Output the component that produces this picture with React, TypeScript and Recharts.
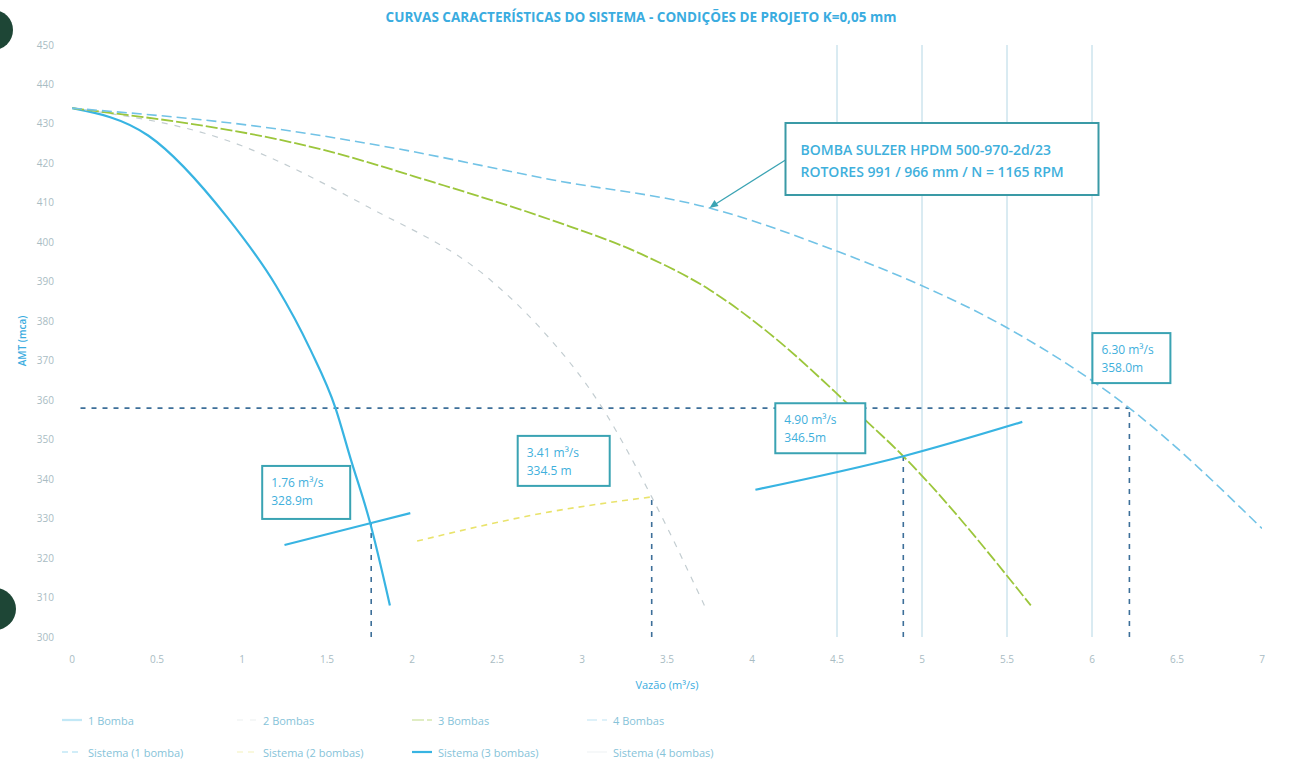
import { LineChart, Line, XAxis, YAxis, ReferenceLine, ReferenceDot } from "recharts";

// eixos
const Q_TICKS = [0, 0.5, 1, 1.5, 2, 2.5, 3, 3.5, 4, 4.5, 5, 5.5, 6, 6.5, 7];
const H_TICKS = [300, 310, 320, 330, 340, 350, 360, 370, 380, 390, 400, 410, 420, 430, 440, 450];
const GRID_Q = [4.5, 5, 5.5, 6];

// curvas das bombas em paralelo (vazão m³/s, AMT m)
const bomba1 = [
  { q: 0, h: 434 }, { q: 0.45, h: 427 }, { q: 0.91, h: 406.5 }, { q: 1.2, h: 389 },
  { q: 1.4, h: 373 }, { q: 1.55, h: 358 }, { q: 1.64, h: 345 }, { q: 1.75, h: 329.5 },
  { q: 1.87, h: 308 },
];
const bomba2 = [
  { q: 0, h: 434 }, { q: 0.9, h: 426 }, { q: 1.74, h: 409 }, { q: 2.46, h: 390.5 },
  { q: 2.75, h: 378.5 }, { q: 3.12, h: 358 }, { q: 3.41, h: 335.5 }, { q: 3.72, h: 308 },
];
const bomba3 = [
  { q: 0, h: 434 }, { q: 1.48, h: 423.4 }, { q: 2.12, h: 415.3 }, { q: 2.83, h: 405.5 },
  { q: 3.35, h: 397 }, { q: 3.75, h: 388 }, { q: 4.1, h: 377 }, { q: 4.59, h: 358 },
  { q: 4.89, h: 345.8 }, { q: 5.64, h: 308 },
];
const bomba4 = [
  { q: 0, h: 434 }, { q: 1.21, h: 428.7 }, { q: 1.89, h: 423.9 }, { q: 2.83, h: 415.8 },
  { q: 3.75, h: 408.7 }, { q: 4.51, h: 397.6 }, { q: 4.99, h: 389.2 }, { q: 5.49, h: 378.6 },
  { q: 6.22, h: 358 }, { q: 7, h: 327.5 },
];

// curvas do sistema
const sistema1 = [{ q: 1.25, h: 323.3 }, { q: 1.76, h: 328.9 }, { q: 1.99, h: 331.4 }];
const sistema2 = [{ q: 2.03, h: 324.3 }, { q: 2.81, h: 331.7 }, { q: 3.41, h: 335.5 }];
const sistema3 = [{ q: 4.02, h: 337.3 }, { q: 4.89, h: 345.8 }, { q: 5.59, h: 354.5 }];

// pontos de operação
const pontos = [
  { q: 1.76, h: 328.9, vazao: "1.76 m³/s", amt: "328.9m" },
  { q: 3.41, h: 335.5, vazao: "3.41 m³/s", amt: "334.5 m" },
  { q: 4.89, h: 345.8, vazao: "4.90 m³/s", amt: "346.5m" },
  { q: 6.22, h: 358, vazao: "6.30 m³/s", amt: "358.0m" },
];
const bombaInfo = ["BOMBA SULZER HPDM 500-970-2d/23", "ROTORES 991 / 966 mm / N = 1165 RPM"];
const bombaSeta = { q: 3.75, h: 408.7 };

const legenda1 = ["1 Bomba", "2 Bombas", "3 Bombas", "4 Bombas"];
const legenda2 = ["Sistema (1 bomba)", "Sistema (2 bombas)", "Sistema (3 bombas)", "Sistema (4 bombas)"];

// caixa de cada ponto, deslocada em px a partir do ponto
const BOX = [
  { dx: -109, dy: -57, w: 88, h: 53 },
  { dx: -134, dy: -61, w: 92, h: 50 },
  { dx: -128, dy: -53, w: 90, h: 50 },
  { dx: -37, dy: -75, w: 78, h: 50 },
];

const CYAN = "#38b4e2";
const TXT = "#3fb0dc";
const FONT = "'Open Sans', sans-serif";

const PUMP_STYLE = [
  { stroke: CYAN, dash: undefined, w: 2.2 },
  { stroke: "#c3cdd1", dash: "6 7", w: 1.2 },
  { stroke: "#9cc63c", dash: "12 3", w: 1.8 },
  { stroke: "#72c3e6", dash: "10 5", w: 1.6 },
];
const SYS_STYLE = [
  { stroke: CYAN, dash: "6 4", w: 1.4 },
  { stroke: "#e9e36c", dash: "6 5", w: 1.6 },
  { stroke: CYAN, dash: undefined, w: 2.2 },
  { stroke: "#c9d7dc", dash: undefined, w: 1 },
];

function PontoBox(props: any) {
  const { cx, cy, idx } = props;
  const b = BOX[idx];
  const p = pontos[idx];
  const x = cx + b.dx;
  const y = cy + b.dy;
  return (
    <g>
      <rect x={x} y={y} width={b.w} height={b.h} fill="#fff" stroke="#3aa3b3" strokeWidth={2} />
      <text x={x + 9} y={y + 21} fontSize={12} fill={TXT} fontFamily={FONT}>{p.vazao}</text>
      <text x={x + 9} y={y + 39} fontSize={12} fill={TXT} fontFamily={FONT}>{p.amt}</text>
    </g>
  );
}

function BombaBox(props: any) {
  const { cx, cy } = props;
  const x = cx + 76;
  const y = cy - 85;
  return (
    <g>
      <line x1={x} y1={y + 37} x2={cx + 3} y2={cy - 2} stroke="#3aa3b3" strokeWidth={1.3} />
      <path d={`M${cx} ${cy} l9 -2 l-4 -6 z`} fill="#3aa3b3" />
      <rect x={x} y={y} width={313} height={72} fill="#fff" stroke="#3a9aa6" strokeWidth={2} />
      <text x={x + 15} y={y + 32} fontSize={14} fontWeight={600} fill={TXT} fontFamily={FONT}>{bombaInfo[0]}</text>
      <text x={x + 15} y={y + 54} fontSize={14} fontWeight={600} fill={TXT} fontFamily={FONT}>{bombaInfo[1]}</text>
    </g>
  );
}

function Marker({ s, faint }: { s: { stroke: string; dash?: string; w: number }; faint?: boolean }) {
  return (
    <svg width={20} height={8} style={{ marginRight: 6, opacity: faint ? 0.3 : 1 }}>
      <line x1={0} y1={4} x2={20} y2={4} stroke={s.stroke} strokeWidth={s.w} strokeDasharray={s.dash} />
    </svg>
  );
}

export default function App() {
  const pumps = [bomba1, bomba2, bomba3, bomba4];
  const systems = [sistema1, sistema2, sistema3];
  return (
    <div style={{ position: "absolute", left: 0, top: 0, width: 1294, height: 774, background: "#fff", fontFamily: FONT, overflow: "hidden" }}>
      <div style={{ position: "absolute", top: 8, left: 0, width: 1282, textAlign: "center", fontSize: 13.5, fontWeight: 700, color: "#3aace0" }}>
        CURVAS CARACTERÍSTICAS DO SISTEMA - CONDIÇÕES DE PROJETO K=0,05 mm
      </div>
      <div style={{ position: "absolute", left: 22, top: 341, transform: "translate(-50%, -50%) rotate(-90deg)", fontSize: 10, fontWeight: 600, color: "#3aace0", whiteSpace: "nowrap" }}>
        AMT (mca)
      </div>

      <LineChart width={1294} height={774} margin={{ top: 45, right: 32, left: 22, bottom: 85 }}>
        <XAxis dataKey="q" type="number" domain={[0, 7]} ticks={Q_TICKS} allowDataOverflow
          axisLine={false} tickLine={false} tickSize={0} tickMargin={19} height={52}
          tick={{ fontSize: 10, fill: "#a9bcc3", fontFamily: FONT }}
          label={{ value: "Vazão (m³/s)", position: "insideBottom", offset: 0, style: { fontSize: 11, fill: "#3aace0", fontFamily: FONT } }} />
        <YAxis type="number" domain={[300, 450]} ticks={H_TICKS} allowDataOverflow width={50}
          axisLine={false} tickLine={false} tickSize={0} tickMargin={18}
          tick={{ fontSize: 10, fill: "#a9bcc3", fontFamily: FONT }} />

        {GRID_Q.map((q) => (
          <ReferenceLine key={q} x={q} stroke="#b4d7e5" strokeWidth={1} />
        ))}

        <ReferenceLine segment={[{ x: 0.05, y: 358 }, { x: 6.22, y: 358 }]} stroke="#3d6f99" strokeWidth={1.6} strokeDasharray="5 6" />
        {pontos.map((p) => (
          <ReferenceLine key={"v" + p.q} segment={[{ x: p.q, y: 300 }, { x: p.q, y: p.h }]} stroke="#3d6f99" strokeWidth={1.6} strokeDasharray="5 6" />
        ))}

        {pumps.map((d, i) => (
          <Line key={"b" + i} data={d} dataKey="h" type="monotone" dot={false} isAnimationActive={false}
            stroke={PUMP_STYLE[i].stroke} strokeWidth={PUMP_STYLE[i].w} strokeDasharray={PUMP_STYLE[i].dash} />
        ))}
        {systems.map((d, i) => (
          <Line key={"s" + i} data={d} dataKey="h" type="monotone" dot={false} isAnimationActive={false}
            stroke={SYS_STYLE[i].stroke} strokeWidth={i === 1 ? 1.6 : 2.2} strokeDasharray={i === 1 ? SYS_STYLE[1].dash : undefined} />
        ))}

        {pontos.map((p, i) => (
          <ReferenceDot key={"p" + i} x={p.q} y={p.h} r={0} shape={(props: any) => <PontoBox {...props} idx={i} />} />
        ))}
        <ReferenceDot x={bombaSeta.q} y={bombaSeta.h} r={0} shape={(props: any) => <BombaBox {...props} />} />
      </LineChart>

      <div style={{ position: "absolute", left: 62, top: 712, fontSize: 11, color: "#86c3d9" }}>
        {[legenda1, legenda2].map((row, r) => (
          <div key={r} style={{ display: "flex", height: 32 }}>
            {row.map((t, i) => (
              <div key={t} style={{ width: 175, display: "flex", alignItems: "center", height: 16 }}>
                <Marker s={r === 0 ? PUMP_STYLE[i] : SYS_STYLE[i]} faint={r === 0 || i !== 2} />
                <span>{t}</span>
              </div>
            ))}
          </div>
        ))}
      </div>

      <div style={{ position: "absolute", left: -27, top: 10, width: 40, height: 40, borderRadius: "50%", background: "#1e4636" }} />
      <div style={{ position: "absolute", left: -26, top: 588, width: 42, height: 42, borderRadius: "50%", background: "#1e4636" }} />
    </div>
  );
}
